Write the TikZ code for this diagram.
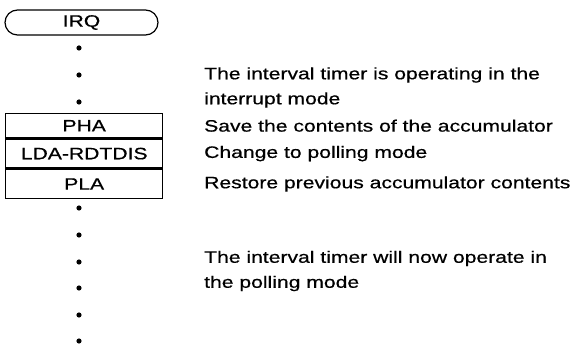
\documentclass[tikz,border=0pt]{standalone}
\usepackage{fontspec}
\newfontfamily\chartfont[FakeStretch=1.28, FakeBold=0.6]{Liberation Sans}
\begin{document}
\begin{tikzpicture}[x=1pt, y=-1pt,
            every node/.style={font=\fontsize{16.5pt}{25pt}\selectfont\chartfont},
            term/.style={draw, line width=1.2pt, rounded corners=12.5pt, minimum width=153pt, minimum height=25pt, inner sep=0pt},
            instr/.style={draw, line width=1.4pt, minimum width=157pt, anchor=north west, inner sep=0pt},
            note/.style={anchor=west, align=left, inner sep=0pt},
        ]
            \useasboundingbox (0,0) rectangle (572,344);
            \node[term](irq) at (81.5,22.5) {IRQ};
            \foreach \y in {48,75,102}
                \fill (79,\y) circle (2.6pt);
            \node[instr, minimum height=24pt](pha) at (5,113) {PHA};
            \node[instr, minimum height=29pt](lda) at (pha.south west) {LDA-RDTDIS};
            \node[instr, minimum height=29pt](pla) at (lda.south west) {PLA};
            \foreach \y in {208,235,262,288,315,341}
                \fill (79,\y) circle (2.6pt);
            \coordinate (notecol) at (204,0);
            \node[note](opnote) at (204,87.5) {The interval timer is operating in the\\interrupt mode};
            \node[note](savenote) at (notecol |- pha) {Save the contents of the accumulator};
            \node[note](pollnote) at (notecol |- lda) {Change to polling mode};
            \node[note](restnote) at (notecol |- pla) {Restore previous accumulator contents};
            \node[note](nownote) at (204,271) {The interval timer will now operate in\\the polling mode};
        \end{tikzpicture}
\end{document}
